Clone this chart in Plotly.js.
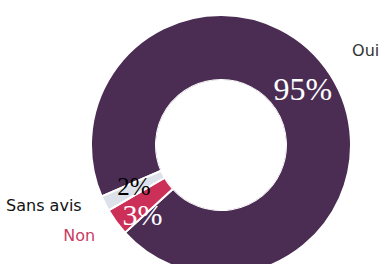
<!DOCTYPE html>
<html><head><meta charset="utf-8">
<script src="https://cdn.plot.ly/plotly-3.0.1.min.js"></script>
<style>html,body{margin:0;padding:0;overflow:hidden;background:#fff;width:390px;height:264px;position:relative}#c{position:absolute;left:0;top:-30px;width:390px;height:350px}</style>
</head><body><div id="c"></div>
<script>
const labels = ['Oui', 'Non', 'Sans avis'];
const values = [94.7, 3.4, 1.9];
const sliceColors = ['#4b2d54', '#cc2f58', '#dde1e9'];
const pctColors = ['#ffffff', '#ffffff', '#000000'];
const labelColors = ['#333333', '#c93c63', '#111111'];

const rotation = 246.7;
const total = values.reduce((a, b) => a + b, 0);
let cum = 0;
const mids = values.map(v => { const m = rotation + (cum + v / 2) / total * 360; cum += v; return ((m % 360) + 360) % 360; });
const widths = values.map(v => v / total * 360);
const pctText = values.map(v => Math.round(v / total * 100) + '%');

const W = 390, H = 350;
// polar square of radius 169 centred at (221, 175) in the div
const dom = {x: [52 / W, 390 / W], y: [(H - 344) / H, (H - 6) / H]};

const data = [
  {type: 'barpolar', r: values.map(() => 1), theta: mids, width: widths,
   marker: {color: sliceColors, line: {color: '#ffffff', width: 2}},
   hoverinfo: 'skip', showlegend: false},
  {type: 'scatterpolar', mode: 'text', r: values.map(() => 0.5), theta: mids, text: pctText,
   textposition: ['middle center', 'bottom center', 'middle center'], cliponaxis: false,
   textfont: {family: 'Liberation Serif, serif', size: [32, 30, 25], color: pctColors},
   hoverinfo: 'skip', showlegend: false},
  {type: 'scatterpolar', mode: 'text', r: values.map(() => 1.4), theta: mids, text: labels,
   textposition: ['top right', 'middle left', 'top left'], cliponaxis: false,
   textfont: {family: 'DejaVu Sans, sans-serif', size: 16, color: labelColors},
   hoverinfo: 'skip', showlegend: false}
];

const layout = {
  width: W, height: H, margin: {l: 0, r: 0, t: 0, b: 0},
  paper_bgcolor: 'rgba(0,0,0,0)', showlegend: false,
  polar: {domain: dom, hole: 65 / 169, bgcolor: 'rgba(0,0,0,0)',
    radialaxis: {visible: false, range: [0, 1.6]},
    angularaxis: {visible: false, rotation: 90, direction: 'clockwise'}}
};
Plotly.newPlot('c', data, layout, {staticPlot: true, displayModeBar: false});
</script></body></html>
